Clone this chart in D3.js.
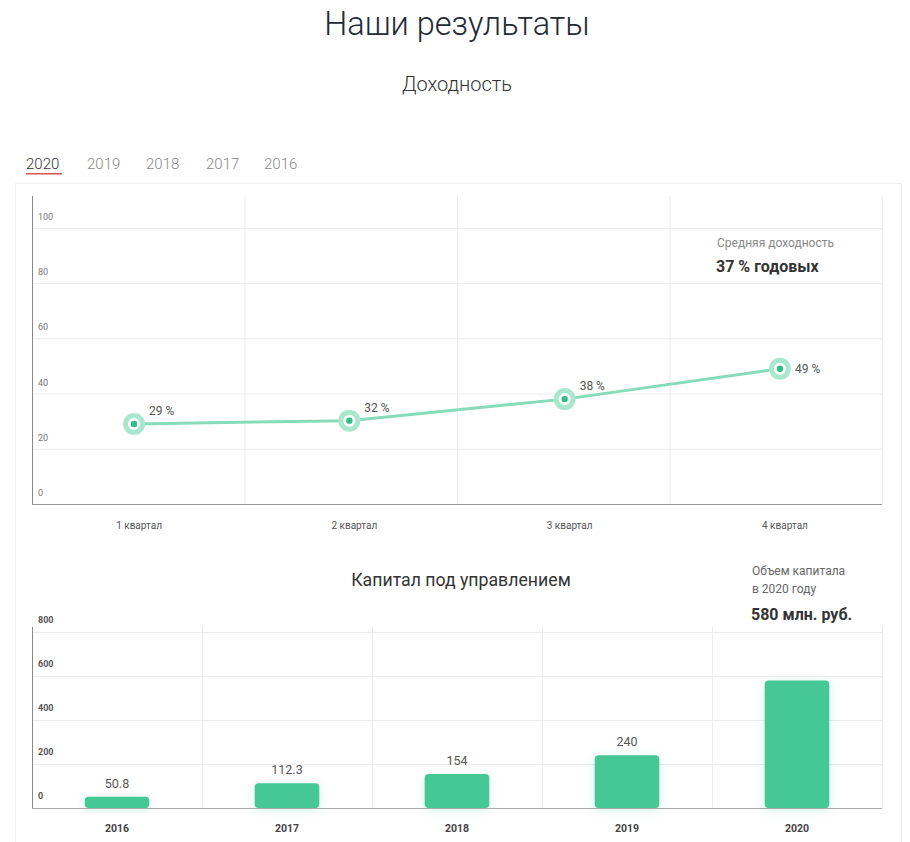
<!DOCTYPE html>
<html><head><meta charset="utf-8">
<script src="https://cdn.jsdelivr.net/npm/d3@7"></script>
<style>
html,body{margin:0;padding:0;background:#fff;}
svg{display:block;font-family:Roboto,"Open Sans",sans-serif;}
</style></head>
<body>
<svg id="c" width="910" height="842"></svg>
<script>
// ---- data ----
const tabs = ["2020","2019","2018","2017","2016"];
const quarters = ["1 квартал","2 квартал","3 квартал","4 квартал"];
const yieldValues = [29, 30.2, 38, 49];
const yieldLabels = ["29 %","32 %","38 %","49 %"];
const yieldTicks = [0,20,40,60,80,100];
const years = ["2016","2017","2018","2019","2020"];
const capital = [50.8, 112.3, 154, 240, 580];
const capitalLabels = ["50.8","112.3","154","240",""];
const capitalTicks = [0,200,400,600,800];

const svg = d3.select("#c");
const defs = svg.append("defs");
const f = defs.append("filter").attr("id","glow").attr("x","-40%").attr("y","-40%").attr("width","180%").attr("height","180%");
f.append("feDropShadow").attr("dx",0).attr("dy",2).attr("stdDeviation",5).attr("flood-color","#45c896").attr("flood-opacity",0.25);

// titles
svg.append("text").attr("x",457).attr("y",35).attr("text-anchor","middle")
  .attr("font-size",32.5).attr("font-weight",300).attr("fill","#222a36").text("Наши результаты");
svg.append("text").attr("x",457).attr("y",91).attr("text-anchor","middle")
  .attr("font-size",20).attr("font-weight",300).attr("fill","#333").text("Доходность");

// tabs
const tabX = [26,87,146,206,264];
tabs.forEach((t,i)=>{
  svg.append("text").attr("x",tabX[i]).attr("y",169).attr("font-size",15).attr("font-weight",300)
    .attr("fill", i===0?"#333":"#888").text(t);
});
svg.append("rect").attr("x",26).attr("y",173).attr("width",36).attr("height",1.5).attr("fill","#d9534f");

// card
svg.append("path").attr("d","M15.5,842 V183.5 H901.5 V842").attr("fill","none").attr("stroke","#eeeeee");

// ---- line chart ----
const L = {left:32, right:882, top:196, bottom:504};
const y1 = d3.scaleLinear().domain([0,100]).range([504,228]);
const x1 = d3.scalePoint().domain(quarters).range([L.left,L.right]).padding(0.474);
const xb1 = d3.scaleBand().domain(quarters).range([L.left,L.right]);

const g1 = svg.append("g");
g1.selectAll(".hg").data(yieldTicks.filter(d=>d>0)).join("line")
  .attr("x1",L.left).attr("x2",L.right).attr("y1",d=>y1(d)+0.5).attr("y2",d=>y1(d)+0.5)
  .attr("stroke","#ececec");
g1.selectAll(".vg").data(quarters.slice(1)).join("line")
  .attr("x1",d=>xb1(d)+0.5).attr("x2",d=>xb1(d)+0.5).attr("y1",L.top).attr("y2",L.bottom)
  .attr("stroke","#ececec");
g1.append("line").attr("x1",L.right+0.5).attr("x2",L.right+0.5).attr("y1",L.top).attr("y2",L.bottom).attr("stroke","#ececec");
g1.selectAll(".yl").data(yieldTicks).join("text")
  .attr("x",38).attr("y",d=>y1(d)-8).attr("font-size",9).attr("fill","#777").text(d=>d);
g1.append("line").attr("x1",L.left+0.5).attr("x2",L.left+0.5).attr("y1",L.top).attr("y2",L.bottom).attr("stroke","#888");
g1.append("line").attr("x1",L.left).attr("x2",L.right).attr("y1",L.bottom+0.5).attr("y2",L.bottom+0.5).attr("stroke","#999");

g1.selectAll(".xl").data(quarters).join("text")
  .attr("x",d=>x1(d)+5).attr("y",529).attr("text-anchor","middle").attr("font-size",10).attr("fill","#555").text(d=>d);

const line = d3.line().x((d,i)=>x1(quarters[i])).y(d=>y1(d));
g1.append("path").datum(yieldValues).attr("d",line).attr("fill","none").attr("stroke","#86dcb8").attr("stroke-width",3);
const pts = g1.selectAll(".pt").data(yieldValues).join("g").attr("transform",(d,i)=>`translate(${x1(quarters[i])},${y1(d)})`);
pts.append("circle").attr("r",8.5).attr("fill","#fff").attr("stroke","#a9e8cd").attr("stroke-width",5);
pts.append("circle").attr("r",3.2).attr("fill","#2fbf85");
const last = yieldLabels.length-1;
g1.selectAll(".vl").data(yieldLabels).join("text")
  .attr("x",(d,i)=>x1(quarters[i])+15)
  .attr("y",(d,i)=>y1(yieldValues[i]) + (i===last ? 4 : -9))
  .attr("font-size",12).attr("fill","#555").text(d=>d);

svg.append("text").attr("x",717).attr("y",247).attr("font-size",12).attr("fill","#888").text("Средняя доходность");
svg.append("text").attr("x",716).attr("y",272).attr("font-size",16).attr("font-weight",700).attr("fill","#333").text("37 % годовых");

// ---- bar chart ----
const B = {left:32, right:882, top:627, bottom:808};
const y2 = d3.scaleLinear().domain([0,800]).range([808,632]);
const x2 = d3.scaleBand().domain(years).range([B.left,B.right]);
const bw = x2.bandwidth()*0.38;

svg.append("text").attr("x",461).attr("y",586).attr("text-anchor","middle").attr("font-size",17.7).attr("fill","#333").text("Капитал под управлением");
svg.append("text").attr("x",752).attr("y",575).attr("font-size",12).attr("fill","#666").text("Объем капитала");
svg.append("text").attr("x",752).attr("y",593).attr("font-size",12).attr("fill","#666").text("в 2020 году");
svg.append("text").attr("x",751).attr("y",620).attr("font-size",16).attr("font-weight",700).attr("fill","#333").text("580 млн. руб.");

const g2 = svg.append("g");
g2.selectAll(".hg").data(capitalTicks.filter(d=>d>0)).join("line")
  .attr("x1",B.left).attr("x2",B.right).attr("y1",d=>y2(d)+0.5).attr("y2",d=>y2(d)+0.5).attr("stroke","#ececec");
g2.selectAll(".vg").data(years.slice(1)).join("line")
  .attr("x1",d=>x2(d)+0.5).attr("x2",d=>x2(d)+0.5).attr("y1",B.top).attr("y2",B.bottom).attr("stroke","#ececec");
g2.append("line").attr("x1",B.right+0.5).attr("x2",B.right+0.5).attr("y1",B.top).attr("y2",B.bottom).attr("stroke","#ececec");
g2.selectAll(".yl").data(capitalTicks).join("text")
  .attr("x",38).attr("y",d=>y2(d)-9).attr("font-size",9).attr("font-weight",700).attr("fill","#555").text(d=>d);

g2.selectAll(".bar").data(capital).join("rect")
  .attr("x",(d,i)=>x2(years[i])+x2.bandwidth()/2-bw/2).attr("width",bw)
  .attr("y",d=>y2(d)).attr("height",d=>808-y2(d)).attr("rx",4)
  .attr("fill","#45c896").attr("filter","url(#glow)");
g2.selectAll(".bl").data(capitalLabels).join("text")
  .attr("x",(d,i)=>x2(years[i])+x2.bandwidth()/2).attr("y",(d,i)=>y2(capital[i])-9)
  .attr("text-anchor","middle").attr("font-size",12.5).attr("fill","#555").text(d=>d);

g2.append("line").attr("x1",B.left+0.5).attr("x2",B.left+0.5).attr("y1",B.top).attr("y2",B.bottom).attr("stroke","#888");
g2.append("line").attr("x1",B.left).attr("x2",B.right).attr("y1",B.bottom+0.5).attr("y2",B.bottom+0.5).attr("stroke","#aaa");
g2.selectAll(".xl").data(years).join("text")
  .attr("x",d=>x2(d)+x2.bandwidth()/2).attr("y",832).attr("text-anchor","middle")
  .attr("font-size",10.5).attr("font-weight",700).attr("fill","#444").text(d=>d);
</script>
</body></html>
